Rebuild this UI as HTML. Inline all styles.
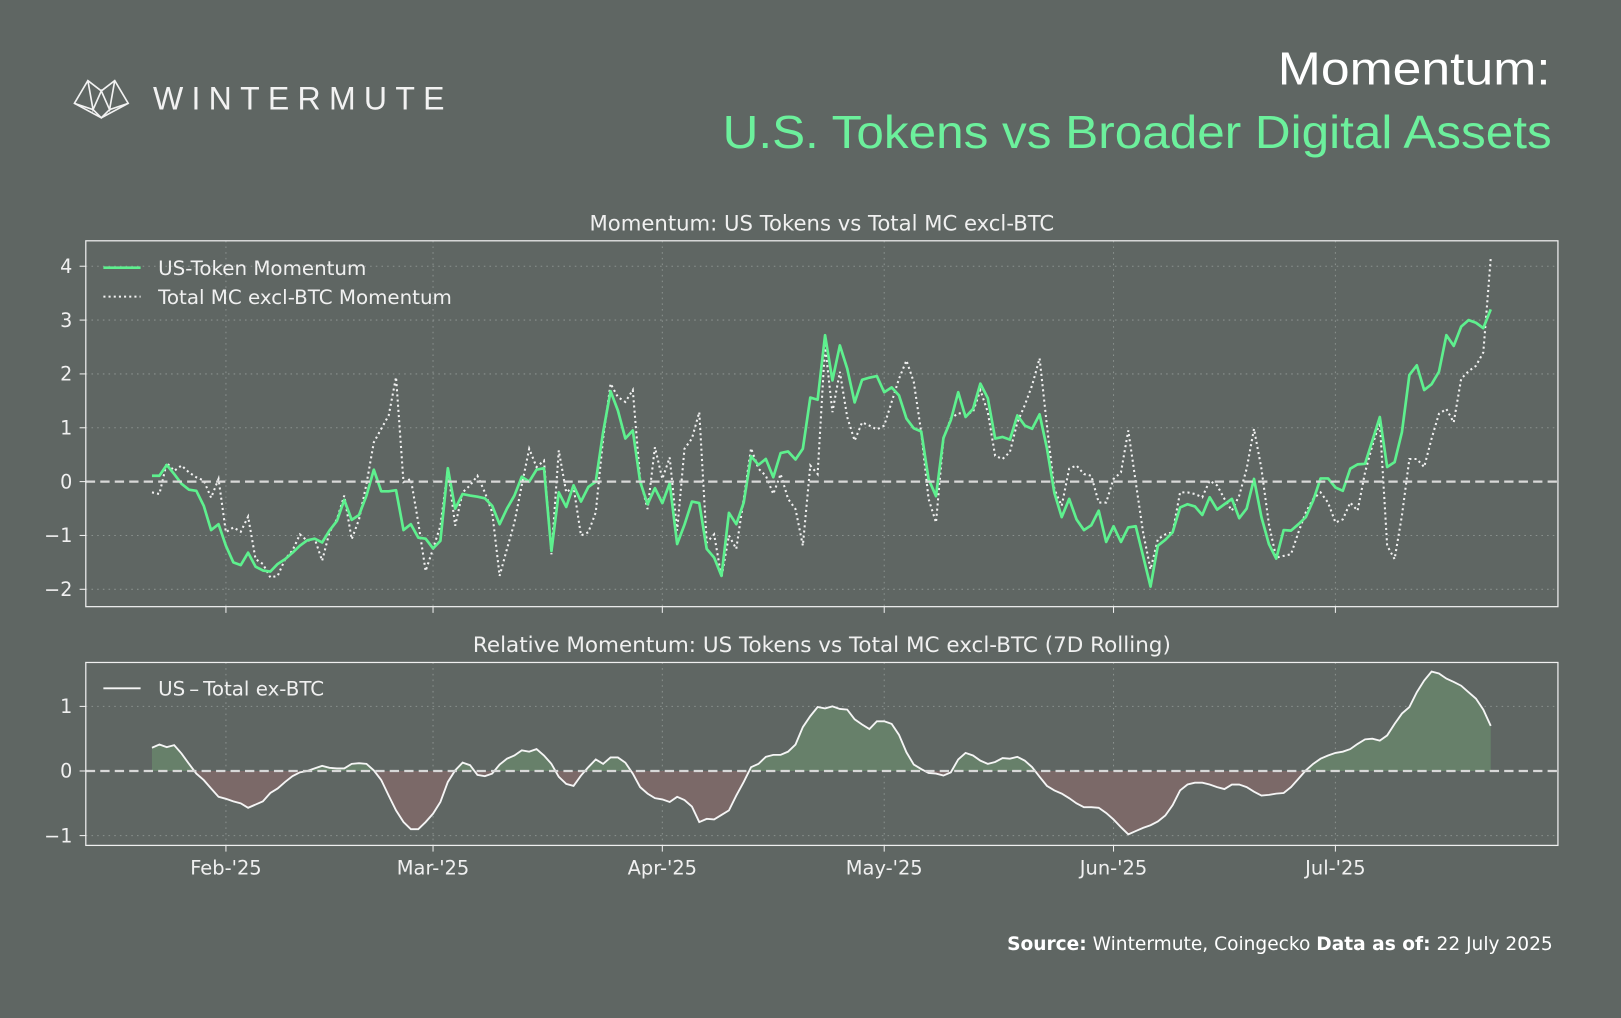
<!DOCTYPE html>
<html><head><meta charset="utf-8">
<style>
html,body{margin:0;padding:0;background:#5f6663;}
svg{display:block;}
text{font-family:"DejaVu Sans","Liberation Sans",sans-serif;}
text.lib{font-family:"Liberation Sans",sans-serif;}
</style></head>
<body>
<svg id="chart" width="1621" height="1018" viewBox="0 0 1568 985" preserveAspectRatio="none" xmlns="http://www.w3.org/2000/svg">
<rect x="0" y="0" width="1568" height="985" fill="#5f6663"/>
<defs>
<clipPath id="clipAbove"><rect x="83" y="641" width="1424" height="105"/></clipPath>
<clipPath id="clipBelow"><rect x="83" y="746" width="1424" height="72"/></clipPath>
</defs>
<g fill="none" stroke="#f2f2f2" stroke-width="1.6">
<polygon points="72,100 85,78 98,88 111,78 124,100 98,114"/>
<polyline points="85,78 90,106 98,88 106,106 111,78"/>
<polyline points="72,100 90,106 98,114 106,106 124,100"/>
</g>
<text class="lib" x="148" y="106" font-size="31" fill="#f2f2f2" letter-spacing="8">WINTERMUTE</text>
<text class="lib" x="1236" y="82" font-size="45" fill="#ffffff" textLength="264" lengthAdjust="spacingAndGlyphs">Momentum:</text>
<text class="lib" x="699" y="143" font-size="45" fill="#6cf09c" textLength="802" lengthAdjust="spacingAndGlyphs">U.S. Tokens vs Broader Digital Assets</text>
<text x="795" y="223" text-anchor="middle" font-size="20.5" fill="#f0f0f0">Momentum: US Tokens vs Total MC excl-BTC</text>
<text x="795" y="631" text-anchor="middle" font-size="20.8" fill="#f0f0f0">Relative Momentum: US Tokens vs Total MC excl-BTC (7D Rolling)</text>
<g id="gTop"></g>
<g id="gBot"></g>
<text x="1502" y="919" text-anchor="end" font-size="18" fill="#ffffff"><tspan font-weight="bold">Source:</tspan> Wintermute, Coingecko  <tspan font-weight="bold">Data as of:</tspan> 22 July 2025</text>
</svg>
<script>
const usMomentum = [0.11,0.11,0.31,0.14,-0.04,-0.15,-0.17,-0.45,-0.9,-0.79,-1.19,-1.5,-1.55,-1.32,-1.58,-1.65,-1.67,-1.53,-1.44,-1.32,-1.19,-1.09,-1.06,-1.13,-0.91,-0.73,-0.34,-0.71,-0.62,-0.26,0.22,-0.18,-0.18,-0.16,-0.9,-0.79,-1.04,-1.06,-1.24,-1.1,0.25,-0.5,-0.23,-0.26,-0.28,-0.31,
-0.45,-0.79,-0.5,-0.26,0.09,0,0.22,0.25,-1.29,-0.2,-0.47,-0.07,-0.37,-0.1,0,0.92,1.68,1.32,0.8,0.95,0,-0.42,-0.12,-0.4,-0.03,-1.16,-0.8,-0.37,-0.4,-1.25,-1.41,-1.75,-0.58,-0.79,-0.39,0.47,0.31,0.42,0.08,0.53,0.56,0.41,0.61,1.56,1.52,2.72,1.88,2.53,2.1,
1.47,1.89,1.93,1.96,1.66,1.75,1.6,1.17,0.99,0.93,0.05,-0.27,0.81,1.14,1.66,1.2,1.35,1.82,1.55,0.8,0.83,0.78,1.23,1.04,0.98,1.25,0.62,-0.21,-0.66,-0.32,-0.7,-0.9,-0.81,-0.54,-1.12,-0.83,-1.12,-0.85,-0.83,-1.38,-1.95,-1.19,-1.08,-0.94,-0.48,-0.42,-0.46,
-0.62,-0.29,-0.52,-0.42,-0.32,-0.68,-0.5,0.05,-0.66,-1.16,-1.43,-0.9,-0.91,-0.79,-0.66,-0.35,0.06,0.06,-0.11,-0.17,0.24,0.32,0.33,0.76,1.2,0.27,0.36,0.92,1.98,2.16,1.7,1.81,2.04,2.72,2.52,2.88,3.0,2.95,2.85,3.2];
const totalMomentum = [-0.2,-0.23,0.35,0.2,0.3,0.17,0.08,0.02,-0.3,0.05,-0.94,-0.85,-0.93,-0.65,-1.44,-1.53,-1.78,-1.75,-1.44,-1.28,-0.98,-1.1,-1.06,-1.47,-0.94,-0.7,-0.26,-1.07,-0.7,-0.04,0.73,0.98,1.23,1.94,-0.01,0.05,-0.76,-1.66,-1.25,-0.82,0.24,-0.82,-0.2,-0.07,0.11,-0.2,
-0.57,-1.75,-1.25,-0.76,-0.07,0.61,0.27,0.39,-1.35,0.58,-0.2,-0.1,-1.0,-0.94,-0.57,0.8,1.82,1.57,1.48,1.7,0.05,-0.51,0.64,0.05,0.45,-0.91,0.61,0.8,1.29,-1.13,-0.98,-1.78,-1.0,-1.25,-0.32,0.62,0.24,0.11,-0.23,0.14,-0.32,-0.51,-1.19,0.3,0.14,2.53,1.29,2.04,
1.2,0.76,1.1,1.04,0.97,1.04,1.48,1.91,2.25,1.85,0.92,-0.32,-0.76,0.8,1.17,1.27,1.26,1.29,1.7,1.29,0.48,0.42,0.55,1.1,1.42,1.79,2.29,1.04,-0.14,-0.45,0.24,0.3,0.14,0.11,-0.39,-0.39,0.05,0.17,0.95,-0.01,-0.94,-1.63,-1.07,-0.98,-0.94,-0.2,-0.2,-0.23,
-0.29,0.02,-0.07,-0.32,-0.54,-0.26,0.24,0.98,0.24,-0.79,-1.41,-1.38,-1.35,-0.94,-0.57,-0.32,-0.2,-0.39,-0.76,-0.7,-0.39,-0.54,0.17,0.67,1.1,-1.19,-1.44,-0.63,0.42,0.42,0.27,0.8,1.26,1.35,1.1,1.91,2.05,2.15,2.4,4.15];
const relMomentum = [0.36,0.41,0.37,0.4,0.27,0.11,-0.04,-0.14,-0.27,-0.4,-0.43,-0.47,-0.5,-0.57,-0.52,-0.47,-0.34,-0.27,-0.17,-0.08,-0.02,0,0.04,0.08,0.05,0.04,0.04,0.11,0.12,0.11,
0.01,-0.14,-0.38,-0.61,-0.79,-0.9,-0.9,-0.79,-0.66,-0.48,-0.17,0.01,0.13,0.09,-0.06,-0.08,-0.04,0.1,0.19,0.24,0.32,0.3,0.34,0.24,0.11,-0.09,-0.2,-0.23,-0.07,0.06,
0.18,0.11,0.21,0.21,0.13,-0.04,-0.25,-0.35,-0.42,-0.44,-0.48,-0.4,-0.45,-0.55,-0.79,-0.74,-0.75,-0.68,-0.61,-0.38,-0.17,0.06,0.11,0.22,0.25,0.25,0.3,0.41,0.68,0.85,
0.99,0.97,1.0,0.96,0.95,0.8,0.72,0.65,0.77,0.77,0.73,0.56,0.29,0.1,0.03,-0.03,-0.04,-0.07,-0.02,0.18,0.28,0.24,0.16,0.11,0.14,0.2,0.19,0.22,0.16,0.06,
-0.09,-0.23,-0.3,-0.35,-0.42,-0.5,-0.56,-0.56,-0.57,-0.65,-0.75,-0.87,-0.98,-0.93,-0.88,-0.84,-0.78,-0.69,-0.53,-0.3,-0.21,-0.18,-0.18,-0.21,-0.25,-0.28,-0.21,-0.21,-0.25,-0.32,
-0.38,-0.37,-0.35,-0.34,-0.25,-0.12,0.01,0.11,0.19,0.24,0.28,0.3,0.34,0.42,0.49,0.5,0.47,0.55,0.73,0.89,0.99,1.22,1.4,1.54,1.51,1.43,1.38,1.32,1.22,1.12,0.95,0.7];
const monthLabels = ["Feb-'25","Mar-'25","Apr-'25","May-'25","Jun-'25","Jul-'25"];
const monthIndex = [10,38,69,99,130,160];
const topTicks = [4,3,2,1,0,-1,-2];
const botTicks = [1,0,-1];

const NS="http://www.w3.org/2000/svg";
function mk(tag,attrs,parent){const e=document.createElementNS(NS,tag);for(const k in attrs)e.setAttribute(k,attrs[k]);parent.appendChild(e);return e;}
const X0=147,X1=1442;
function xS(i){return X0+i*(X1-X0)/(usMomentum.length-1);}
function yTop(v){return 466-v*52.1;}
function yBot(v){return 746-v*62.5;}
const gT=document.getElementById('gTop'), gB=document.getElementById('gBot');
const grid="#8a918e";

monthIndex.forEach((m,k)=>{
  const x=xS(m);
  const g1=mk('line',{x1:x,x2:x,y1:233,y2:587,stroke:grid,'stroke-width':1,'stroke-dasharray':'1.5,4'},gT);
  
  
  const g2=mk('line',{x1:x,x2:x,y1:641,y2:818,stroke:grid,'stroke-width':1,'stroke-dasharray':'1.5,4'},gB);
  
  
  const t1=mk('line',{x1:x,x2:x,y1:587,y2:593,stroke:'#f0f0f0','stroke-width':1},gT);
  
  
  const t2=mk('line',{x1:x,x2:x,y1:818,y2:824,stroke:'#f0f0f0','stroke-width':1},gB);
  
  
  const lb=mk('text',{x:x,y:846,'text-anchor':'middle','font-size':18.8,fill:'#f0f0f0'},gB);
  lb.textContent=monthLabels[k];
  
  
});
topTicks.forEach(v=>{
  const y=yTop(v);
  if(v!==0){const g=mk('line',{x1:83,x2:1507,y1:y,y2:y,stroke:grid,'stroke-width':1,'stroke-dasharray':'1.5,4'},gT);
  
  }
  mk('line',{x1:77,x2:83,y1:y,y2:y,stroke:'#f0f0f0'},gT);
  const t=mk('text',{x:70,y:y+6.5,'text-anchor':'end','font-size':18.5,fill:'#f0f0f0'},gT);
  t.textContent=(v<0?'\u2212':'')+Math.abs(v);
  
  
});
botTicks.forEach(v=>{
  const y=yBot(v);
  if(v!==0){const g=mk('line',{x1:83,x2:1507,y1:y,y2:y,stroke:grid,'stroke-width':1,'stroke-dasharray':'1.5,4'},gB);
  
  }
  mk('line',{x1:77,x2:83,y1:y,y2:y,stroke:'#f0f0f0'},gB);
  const t=mk('text',{x:70,y:y+6.5,'text-anchor':'end','font-size':18.5,fill:'#f0f0f0'},gB);
  t.textContent=(v<0?'\u2212':'')+Math.abs(v);
  
  
});

const ptsT=totalMomentum.map((v,i)=>xS(i).toFixed(1)+','+yTop(v).toFixed(1)).join(' ');
const lT=mk('polyline',{points:ptsT,fill:'none',stroke:'#f2f2f2','stroke-width':2,'stroke-dasharray':'2,3'},gT);


const ptsU=usMomentum.map((v,i)=>xS(i).toFixed(1)+','+yTop(v).toFixed(1)).join(' ');
const lU=mk('polyline',{points:ptsU,fill:'none',stroke:'#5ef08e','stroke-width':2.6,'stroke-linejoin':'round'},gT);


const z1=mk('line',{x1:83,x2:1507,y1:yTop(0),y2:yTop(0),stroke:'#d8d8d8','stroke-width':2.2,'stroke-dasharray':'9,5'},gT);


const f1=mk('rect',{x:83,y:233,width:1424,height:354,fill:'none',stroke:'#f0f0f0','stroke-width':1.2},gT);



const lg1=mk('g',{},gT);


mk('line',{x1:100,x2:136,y1:259,y2:259,stroke:'#5ef08e','stroke-width':2.6},lg1);
const lt1=mk('text',{x:153,y:266,'font-size':19.2,fill:'#f0f0f0'},lg1);lt1.textContent='US-Token Momentum';


mk('line',{x1:100,x2:136,y1:287,y2:287,stroke:'#f2f2f2','stroke-width':2,'stroke-dasharray':'2,3'},lg1);
const lt2=mk('text',{x:153,y:294,'font-size':19.2,fill:'#f0f0f0'},lg1);lt2.textContent='Total MC excl-BTC Momentum';



const n=relMomentum.length;
let area='M'+xS(0)+','+yBot(0)+' '+relMomentum.map((v,i)=>'L'+xS(i).toFixed(1)+','+yBot(v).toFixed(1)).join(' ')+' L'+xS(n-1)+','+yBot(0)+' Z';
const aP=mk('path',{d:area,fill:'#67806a','clip-path':'url(#clipAbove)'},gB);


const aN=mk('path',{d:area,fill:'#7b6968','clip-path':'url(#clipBelow)'},gB);


const lR=mk('polyline',{points:relMomentum.map((v,i)=>xS(i).toFixed(1)+','+yBot(v).toFixed(1)).join(' '),fill:'none',stroke:'#f5f5f5','stroke-width':1.8},gB);


const z2=mk('line',{x1:83,x2:1507,y1:yBot(0),y2:yBot(0),stroke:'#d8d8d8','stroke-width':2.2,'stroke-dasharray':'9,5'},gB);


const f2=mk('rect',{x:83,y:641,width:1424,height:177,fill:'none',stroke:'#f0f0f0','stroke-width':1.2},gB);


const lg2=mk('g',{},gB);


mk('line',{x1:100,x2:136,y1:666,y2:666,stroke:'#f5f5f5','stroke-width':1.8},lg2);
const lt3=mk('text',{x:153,y:673,'font-size':19.2,fill:'#f0f0f0'},lg2);lt3.textContent='US\u2009\u2013\u2009Total ex-BTC';


</script>
</body></html>
